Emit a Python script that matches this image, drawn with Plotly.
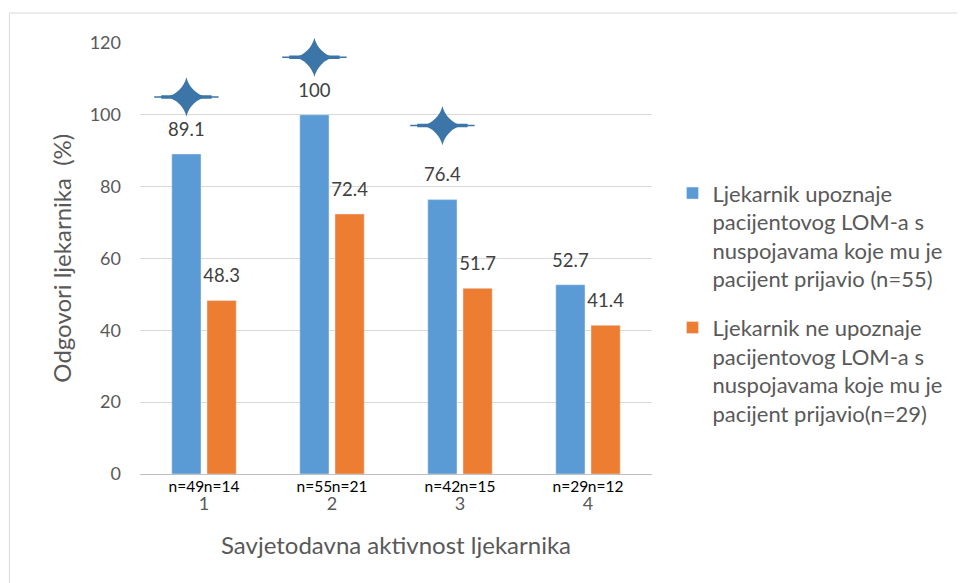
import plotly.graph_objects as go

# Data
categories = ["1", "2", "3", "4"]
upoznaje = [89.1, 100, 76.4, 52.7]
ne_upoznaje = [48.3, 72.4, 51.7, 41.4]
n_upoznaje = ["n=49", "n=55", "n=42", "n=29"]
n_ne_upoznaje = ["n=14", "n=21", "n=15", "n=12"]
star_categories = ["1", "2", "3"]
star_values = [105, 116, 97]

name_a = "Ljekarnik upoznaje<br>pacijentovog LOM-a s<br>nuspojavama koje mu je<br>pacijent prijavio (n=55)"
name_b = "Ljekarnik ne upoznaje<br>pacijentovog LOM-a s<br>nuspojavama koje mu je<br>pacijent prijavio(n=29)"

BLUE = "#5B9BD5"
ORANGE = "#ED7D31"
TEXT = "#595959"
LABEL = "#404040"
GRID = "#D9D9D9"
STAR = "#3C76A8"
FONT = "Lato, Carlito, Calibri, sans-serif"

fig = go.Figure()

fig.add_trace(go.Bar(x=categories, y=upoznaje, name=name_a, marker_color=BLUE,
                     offsetgroup="a", legendgroup="a"))
fig.add_trace(go.Bar(x=categories, y=ne_upoznaje, name=name_b, marker_color=ORANGE,
                     offsetgroup="b", legendgroup="b"))

# value labels above bars
for vals, grp in [(upoznaje, "a"), (ne_upoznaje, "b")]:
    fig.add_trace(go.Scatter(
        x=categories, y=vals, mode="markers+text", offsetgroup=grp,
        text=[f"{v:g}" for v in vals], textposition="top center",
        textfont=dict(size=18.5, color=LABEL),
        marker=dict(size=20, opacity=0),
        showlegend=False, cliponaxis=False, hoverinfo="skip",
    ))

# n labels under each bar
for labels, grp in [(n_upoznaje, "a"), (n_ne_upoznaje, "b")]:
    fig.add_trace(go.Scatter(
        x=categories, y=[0] * 4, mode="markers+text", text=labels, offsetgroup=grp,
        textposition="bottom center", textfont=dict(size=15.5, color="#000000"),
        marker=dict(size=8, opacity=0),
        showlegend=False, cliponaxis=False, hoverinfo="skip",
    ))

# significance stars above blue bars (4-point star stretched horizontally)
for sym, size, lw in [("line-ew", 46, 1.5), ("line-ew", 36, 3.5), ("star-diamond", 28, 0)]:
    fig.add_trace(go.Scatter(
        x=star_categories, y=star_values, mode="markers", offsetgroup="a",
        marker=dict(symbol=sym, size=size, color=STAR, line=dict(width=lw, color=STAR)),
        showlegend=False, cliponaxis=False, hoverinfo="skip",
    ))

fig.update_layout(
    width=965, height=583,
    margin=dict(l=132, r=321, t=35, b=117, autoexpand=False),
    paper_bgcolor="white", plot_bgcolor="white",
    font=dict(family=FONT, size=18, color=TEXT),
    barmode="group", scattermode="group",
    bargap=0.45, bargroupgap=0.17,
    legend=dict(
        x=1.04, y=0.70, xanchor="left", yanchor="top", valign="top",
        font=dict(size=22, color=TEXT), tracegroupgap=17,
        itemwidth=30,
    ),
    showlegend=True,
)

fig.update_yaxes(
    range=[0, 120], dtick=20, showgrid=True, gridcolor=GRID, gridwidth=1,
    zeroline=False, showline=False, ticks="", ticklabelstandoff=18,
    tickfont=dict(size=18, color=TEXT),
)
fig.update_xaxes(
    showline=True, linecolor="#BFBFBF", linewidth=1, ticks="",
    ticklabelstandoff=13, tickfont=dict(size=18, color=TEXT),
    title=dict(text="Savjetodavna aktivnost ljekarnika", font=dict(size=24, color=TEXT), standoff=24),
)

# y-axis title placed as a rotated annotation
fig.add_annotation(
    text="Odgovori ljekarnika  (%)", textangle=-90, showarrow=False,
    xref="paper", yref="paper", x=-0.154, y=0.5, xanchor="center", yanchor="middle",
    font=dict(size=24, color=TEXT),
)

# outer chart frame
fig.add_shape(
    type="rect", xref="paper", yref="paper",
    x0=-0.255, x1=1.8, y0=-0.4, y1=1.0696,
    line=dict(color=GRID, width=1), fillcolor="rgba(0,0,0,0)", layer="below",
)

fig.write_html("out.html")
